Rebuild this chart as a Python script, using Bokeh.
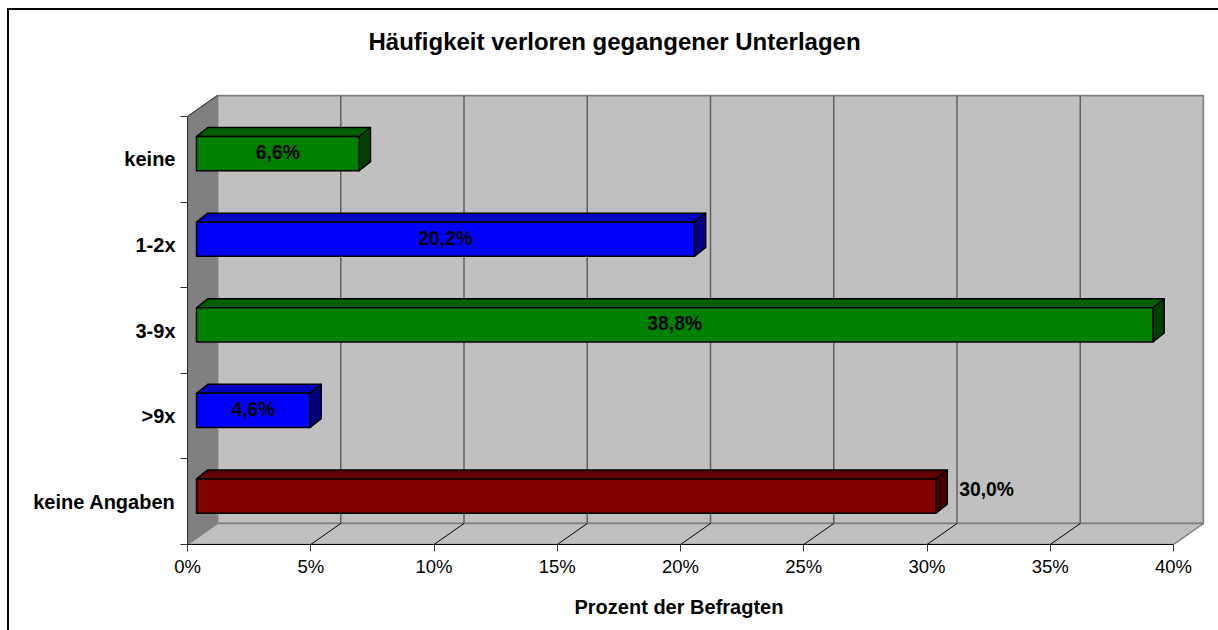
from bokeh.plotting import figure
from bokeh.embed import file_html
from bokeh.resources import INLINE
from bokeh.models import Range1d, LinearAxis, FixedTicker, Title
from bokeh.core.properties import value

TITLE = "Häufigkeit verloren gegangener Unterlagen"
X_LABEL = "Prozent der Befragten"
categories = ["keine", "1-2x", "3-9x", ">9x", "keine Angaben"]
percent = [6.6, 20.2, 38.8, 4.6, 30.0]
x_ticks = [0, 5, 10, 15, 20, 25, 30, 35, 40]
face_colors = ["#008000", "#0000FF", "#008000", "#0000FF", "#800000"]
top_colors = ["#006000", "#0000C0", "#006000", "#0000C0", "#600000"]
side_colors = ["#004000", "#000080", "#004000", "#000080", "#400000"]

FONT = value("Liberation Sans")
PX_X = 40 / 986          # percent per pixel
PX_Y = 5 / 428           # category units per pixel
XMAX = 1017 * PX_X
YMAX = 450 * PX_Y
WALL_DX, WALL_DY = 30 * PX_X, 21 * PX_Y
BAR_X0 = 9 * PX_X
BAR_DX, BAR_DY = 11.3 * PX_X, 9 * PX_Y
BAR_H = 0.2
BAR_SHIFT = 0.066

# the figure's own box is the chart-area frame: it starts at (7, 8) and runs off right and bottom
p = figure(width=1211, height=622, output_backend="svg", toolbar_location=None,
           x_range=Range1d(0, XMAX), y_range=Range1d(0, YMAX),
           x_axis_type=None, y_axis_type=None, margin=(8, 0, 0, 7),
           min_border_left=178, min_border_right=16, min_border_top=84, min_border_bottom=88,
           styles={"border-top": "2px solid #000000", "border-left": "2px solid #000000", "box-sizing": "border-box"})
p.outline_line_color = None
p.grid.visible = False
p.background_fill_color = "white"
p.border_fill_color = "white"

# an unlabelled, unpainted axis holds the title clear of the plot
p.add_layout(LinearAxis(ticker=FixedTicker(ticks=[20]), axis_line_color=None, major_tick_line_color=None,
                        major_label_overrides={20: ""}, major_label_standoff=0, major_label_text_font_size="0px",
                        major_tick_in=0, major_tick_out=35, minor_tick_in=0, minor_tick_out=0), "above")
p.add_layout(Title(text=TITLE, align="left", offset=181,
                   text_font="Liberation Sans", text_font_size="24px",
                   text_font_style="bold", text_color="#000000"), "above")

# walls
GREY = "#808080"
p.patch([0, WALL_DX, WALL_DX, 0], [0, WALL_DY, 5 + WALL_DY, 5], fill_color=GREY, line_color=GREY, line_width=1.5)
p.patch([WALL_DX, 40 + WALL_DX, 40 + WALL_DX, WALL_DX], [WALL_DY, WALL_DY, 5 + WALL_DY, 5 + WALL_DY],
        fill_color="#C0C0C0", line_color=GREY, line_width=1.8)
p.patch([0, 40, 40 + WALL_DX, WALL_DX], [0, 0, WALL_DY, WALL_DY], fill_color="#C0C0C0", line_color=GREY, line_width=1.5)
p.line([0, WALL_DX], [5, 5 + WALL_DY], line_color="#303030", line_width=1)

inner = x_ticks[1:-1]
p.segment([t + WALL_DX for t in inner], [WALL_DY] * len(inner), [t + WALL_DX for t in inner], [5 + WALL_DY] * len(inner),
          line_color="#606060", line_width=1.5)
p.segment(inner, [0] * len(inner), [t + WALL_DX for t in inner], [WALL_DY] * len(inner), line_color="#000000", line_width=1)

# bars
ys = [4.5 - i + BAR_SHIFT for i in range(len(categories))]
x0 = BAR_X0
for v, y, fc, tc, sc in zip(percent, ys, face_colors, top_colors, side_colors):
    x1 = x0 + v
    yb, yt = y - BAR_H, y + BAR_H
    kw = dict(line_color="#000000", line_width=1.5, line_join="round")
    p.patch([x0, x1, x1 + BAR_DX, x0 + BAR_DX], [yt, yt, yt + BAR_DY, yt + BAR_DY], fill_color=tc, **kw)
    p.patch([x1, x1 + BAR_DX, x1 + BAR_DX, x1], [yb, yb + BAR_DY, yt + BAR_DY, yt], fill_color=sc, **kw)
    p.patch([x0, x1, x1, x0], [yb, yb, yt, yt], fill_color=fc, **kw)

# value labels: centred on the bar, except the last one, beside it
labels = [f"{v:.1f}".replace(".", ",") + "%" for v in percent]
lx = [x0 + v / 2 for v in percent[:-1]]
ly = [y + 1 * PX_Y for y in ys[:-1]]
p.text(lx, ly, text=labels[:-1], text_align="center", text_baseline="middle", text_font=FONT,
       text_font_size="19.3px", text_font_style="bold", text_color="#000000")
p.text([x0 + percent[-1] + BAR_DX + 12 * PX_X], [ys[-1] + 7 * PX_Y], text=[labels[-1]], text_align="left",
       text_baseline="middle", text_font=FONT, text_font_size="19.3px", text_font_style="bold", text_color="#000000")

# axes
xa = LinearAxis(ticker=FixedTicker(ticks=x_ticks), bounds=(0, 40),
                major_label_overrides={t: f"{t}%" for t in x_ticks},
                major_label_text_font="Liberation Sans", major_label_text_font_size="18.5px",
                major_label_text_color="#000000", major_label_standoff=4,
                major_tick_in=0, major_tick_out=7, minor_tick_out=0, minor_tick_in=0,
                axis_line_color="#000000", major_tick_line_color="#303030")
p.add_layout(xa, "below")
p.add_layout(Title(text=X_LABEL, align="left", offset=387, standoff=28,
                   text_font="Liberation Sans", text_font_size="20px",
                   text_font_style="bold", text_color="#000000"), "below")

band_centres = [4.5 - i for i in range(len(categories))]
ya = LinearAxis(ticker=FixedTicker(ticks=band_centres, minor_ticks=[0, 1, 2, 3, 4, 5]), bounds=(0, 5),
                major_label_overrides={c: n for c, n in zip(band_centres, categories)},
                major_label_text_font="Liberation Sans", major_label_text_font_size="20px",
                major_label_text_font_style="bold", major_label_text_color="#000000",
                major_label_standoff=5,
                major_tick_in=0, major_tick_out=0, minor_tick_in=0, minor_tick_out=7,
                axis_line_color="#303030", minor_tick_line_color="#303030")
p.add_layout(ya, "left")

open("out.html", "w").write(file_html(p, INLINE))
